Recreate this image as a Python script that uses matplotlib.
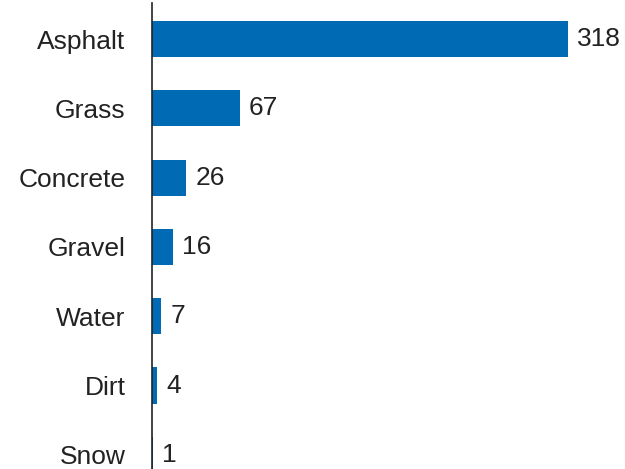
import matplotlib
matplotlib.use('Agg')
from matplotlib import pyplot as plt

plt.rcParams['font.family'] = ['Liberation Sans', 'DejaVu Sans']

surfaces = ['Asphalt', 'Grass', 'Concrete', 'Gravel', 'Water', 'Dirt', 'Snow']
counts = [318, 67, 26, 16, 7, 4, 1]

bar_color = '#006ab4'
text_color = '#222222'

fig = plt.figure(figsize=(6.25, 4.69), dpi=100)
ax = fig.add_axes([152 / 625, 0, 1 - 152 / 625, 466 / 469])

ypos = list(range(len(surfaces)))
ax.barh(ypos, counts, height=0.52, color=bar_color)

# value labels right of bars
for y, v in zip(ypos, counts):
    ax.text(v + 7, y, str(v), va='center', ha='left', fontsize=19, color=text_color)

ax.set_yticks(ypos)
ax.set_yticklabels(surfaces, fontsize=19, color=text_color)
ax.tick_params(axis='y', length=0, pad=19)
ax.set_xticks([])
ax.set_xlim(0, 361.6)
ax.set_ylim(6.205, -0.52)

for s in ['top', 'right', 'bottom']:
    ax.spines[s].set_visible(False)
ax.spines['left'].set_color('#222222')
ax.spines['left'].set_linewidth(1.2)

fig.savefig('out.png', dpi=100)
